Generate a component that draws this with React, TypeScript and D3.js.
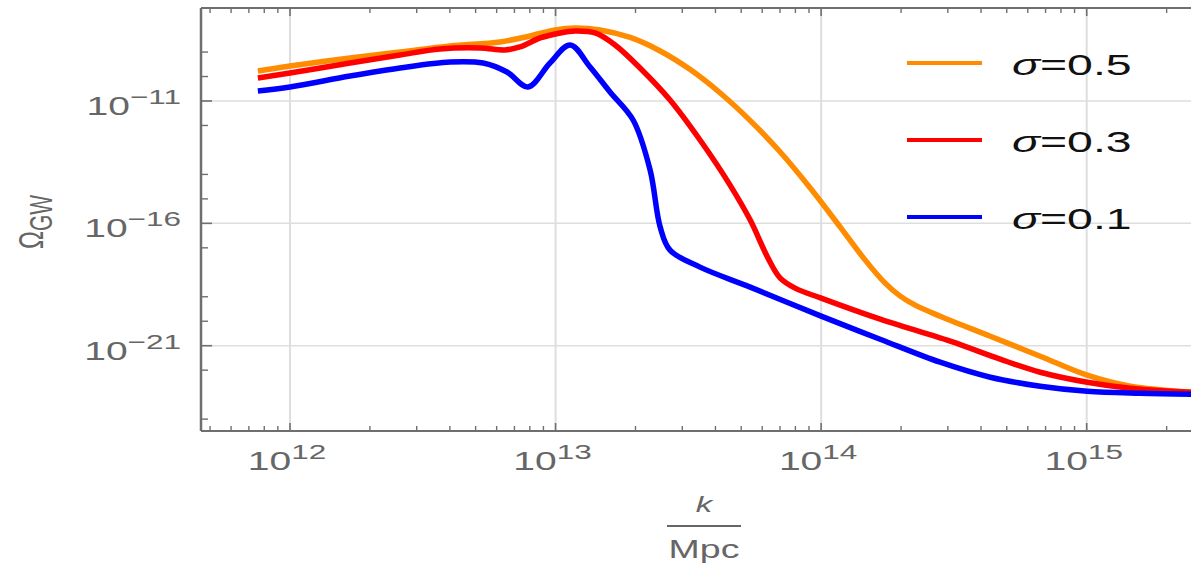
import React from 'react';
import * as d3 from 'd3';

const W = 1191;
const H = 568;

// [log10 k, log10 Omega]
const sigma05: [number, number][] = [
  [11.879, -9.773], [12.0, -9.569], [12.226, -9.241], [12.414, -8.996], [12.603, -8.751],
  [12.791, -8.587], [12.904, -8.342], [12.998, -8.096], [13.073, -8.014], [13.168, -8.096],
  [13.281, -8.403], [13.394, -8.955], [13.507, -9.716], [13.62, -10.673], [13.733, -11.802],
  [13.846, -13.086], [13.959, -14.558], [14.072, -16.153], [14.166, -17.503], [14.241, -18.444],
  [14.298, -18.975], [14.354, -19.344], [14.448, -19.794], [14.637, -20.611], [14.825, -21.429],
  [15.002, -22.206], [15.164, -22.656], [15.4, -22.902],
];

const sigma03: [number, number][] = [
  [11.879, -10.059], [12.0, -9.855], [12.226, -9.446], [12.414, -9.119], [12.565, -8.873],
  [12.716, -8.832], [12.81, -8.914], [12.866, -8.791], [12.942, -8.423], [13.017, -8.219],
  [13.073, -8.137], [13.149, -8.219], [13.224, -8.71], [13.318, -9.65], [13.431, -10.959],
  [13.544, -12.595], [13.657, -14.436], [13.733, -15.867], [13.8, -17.421], [13.846, -18.239],
  [13.902, -18.648], [14.0, -19.057], [14.211, -19.875], [14.486, -20.816], [14.674, -21.552],
  [14.825, -22.084], [15.002, -22.493], [15.164, -22.738], [15.4, -22.902],
];

const sigma01: [number, number][] = [
  [11.879, -10.591], [12.0, -10.427], [12.226, -9.978], [12.414, -9.65], [12.603, -9.405],
  [12.727, -9.446], [12.817, -9.814], [12.896, -10.427], [12.979, -9.446], [13.055, -8.71],
  [13.13, -9.609], [13.205, -10.632], [13.292, -11.777], [13.356, -13.822], [13.394, -16.153],
  [13.431, -17.094], [13.544, -17.789], [13.733, -18.607], [14.0, -19.793], [14.222, -20.734],
  [14.448, -21.675], [14.637, -22.288], [14.825, -22.656], [15.002, -22.861], [15.201, -22.943],
  [15.4, -22.984],
];

const seriesData = [sigma05, sigma03, sigma01];
const seriesLabels = ['0.5', '0.3', '0.1'];
const seriesColors = ['#ff8c00', '#ff0000', '#0000ff'];

const xMajor = [12, 13, 14, 15];
const yMajor = [-11, -16, -21];
const yMinor = [-9, -10, -12, -14, -15, -17, -19, -20, -22, -24];

const FRAME = '#6f6f6f';
const GRID = '#dedede';
const LABEL = '#666666';
const FONT = '"Liberation Sans", Arial, sans-serif';

const left = 201;
const top = 8;
const bottom = 431;

const x = d3.scaleLog().domain([1e12, 1e15]).range([290, 1086.7]);
const y = d3.scaleLog().domain([1e-11, 1e-21]).range([101, 345.7]);

const line = d3
  .line<[number, number]>()
  .x((d) => x(Math.pow(10, d[0])))
  .y((d) => y(Math.pow(10, d[1])))
  .curve(d3.curveCatmullRom.alpha(0.5));

// minor ticks on the k axis: 2..9 times each decade inside the frame
const xMinor: number[] = [];
for (let e = 11; e <= 15; e++) {
  for (let m = 2; m <= 9; m++) {
    const v = m * Math.pow(10, e);
    const px = x(v);
    if (px > left && px < W) xMinor.push(v);
  }
}

function Stretched(props: { x: number; y: number; anchor?: string; size: number; sx?: number; fill?: string; children: React.ReactNode }) {
  return (
    <g transform={`translate(${props.x},${props.y}) scale(${props.sx || 1.5},1)`}>
      <text textAnchor={props.anchor || 'start'} fontSize={props.size} fill={props.fill || LABEL} fontFamily={FONT}>
        {props.children}
      </text>
    </g>
  );
}

export default function App() {
  return (
    <svg width={W} height={H} style={{ position: 'absolute', left: 0, top: 0, background: '#fff' }}>
      <defs>
        <clipPath id="plot">
          <rect x={left} y={top} width={W - left} height={bottom - top} />
        </clipPath>
      </defs>

      {/* grid */}
      {xMajor.map((e) => (
        <line key={'gx' + e} x1={x(Math.pow(10, e))} x2={x(Math.pow(10, e))} y1={top} y2={bottom} stroke={GRID} strokeWidth={2} />
      ))}
      {yMajor.map((e) => (
        <line key={'gy' + e} x1={left} x2={W} y1={y(Math.pow(10, e))} y2={y(Math.pow(10, e))} stroke={GRID} strokeWidth={1.5} />
      ))}

      {/* curves */}
      <g clipPath="url(#plot)">
        {seriesData.map((s, i) => (
          <path key={i} d={line(s) || ''} fill="none" stroke={seriesColors[i]} strokeWidth={5.5} strokeLinejoin="round" />
        ))}
      </g>

      {/* frame */}
      <line x1={left} x2={W} y1={top} y2={top} stroke={FRAME} strokeWidth={2} />
      <line x1={left} x2={W} y1={bottom} y2={bottom} stroke={FRAME} strokeWidth={2} />
      <line x1={left} x2={left} y1={top} y2={bottom} stroke={FRAME} strokeWidth={2.5} />

      {/* k ticks, bottom and top */}
      {xMajor.map((e) => {
        const px = x(Math.pow(10, e));
        return (
          <g key={'xt' + e} stroke={FRAME} strokeWidth={1.6}>
            <line x1={px} x2={px} y1={bottom} y2={bottom - 8} />
            <line x1={px} x2={px} y1={top} y2={top + 8} />
          </g>
        );
      })}
      {xMinor.map((v, i) => {
        const px = x(v);
        return (
          <g key={'xm' + i} stroke={FRAME} strokeWidth={1.4}>
            <line x1={px} x2={px} y1={bottom} y2={bottom - 5} />
            <line x1={px} x2={px} y1={top} y2={top + 5} />
          </g>
        );
      })}

      {/* Omega ticks */}
      {yMajor.map((e) => (
        <line key={'yt' + e} x1={left} x2={left + 11} y1={y(Math.pow(10, e))} y2={y(Math.pow(10, e))} stroke={FRAME} strokeWidth={1.6} />
      ))}
      {yMinor.map((e) => (
        <line key={'ym' + e} x1={left} x2={left + 7} y1={y(Math.pow(10, e))} y2={y(Math.pow(10, e))} stroke={FRAME} strokeWidth={1.4} />
      ))}

      {/* tick labels */}
      {xMajor.map((e) => (
        <Stretched key={'xl' + e} x={x(Math.pow(10, e)) - 3} y={470} anchor="middle" size={26}>
          10<tspan fontSize={21} dy={-11}>{e}</tspan>
        </Stretched>
      ))}
      {yMajor.map((e) => (
        <Stretched key={'yl' + e} x={181} y={y(Math.pow(10, e)) + 14} anchor="end" size={26}>
          10<tspan fontSize={21} dy={-11}>{'\u2212' + Math.abs(e)}</tspan>
        </Stretched>
      ))}

      {/* axis labels */}
      <g transform="translate(43,249) rotate(-90) scale(1,1.5)">
        <text fontSize={24} fill={LABEL} fontFamily={FONT}>
          Ω<tspan fontSize={21} dy={6}>GW</tspan>
        </text>
      </g>
      <Stretched x={704} y={512} anchor="middle" size={22}>
        <tspan fontStyle="italic">k</tspan>
      </Stretched>
      <line x1={667} x2={741} y1={526} y2={526} stroke={LABEL} strokeWidth={2} />
      <Stretched x={704} y={558} anchor="middle" size={25}>
        Mpc
      </Stretched>

      {/* legend */}
      {seriesLabels.map((lab, i) => {
        const ly = 63 + i * 77;
        return (
          <g key={'lg' + i}>
            <line x1={907} x2={982} y1={ly} y2={ly} stroke={seriesColors[i]} strokeWidth={4} />
            <Stretched x={1012} y={ly + 12} size={29} sx={1.6} fill="#111">
              <tspan fontStyle="italic">σ</tspan>={lab}
            </Stretched>
          </g>
        );
      })}
    </svg>
  );
}
